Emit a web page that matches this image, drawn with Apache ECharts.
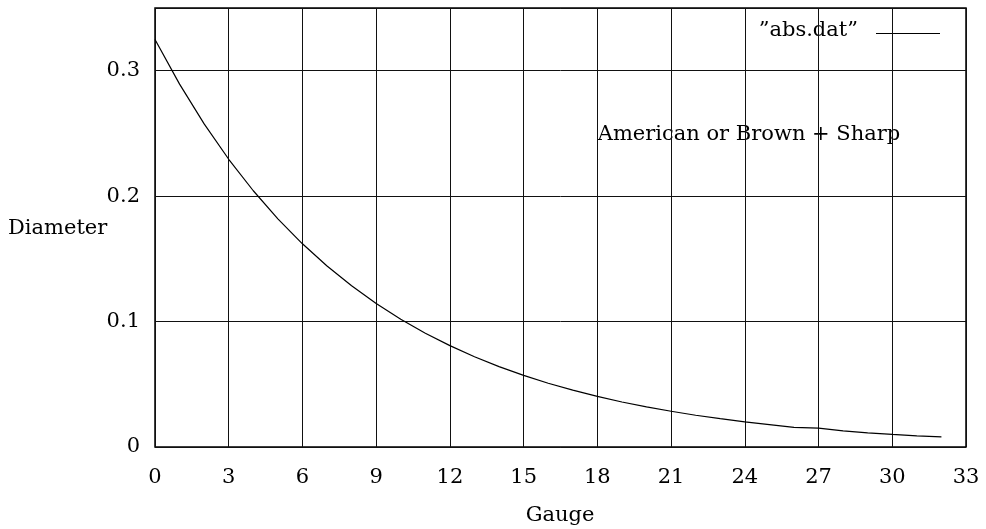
<!DOCTYPE html>
<html>
<head>
<meta charset="utf-8">
<script src="https://cdn.jsdelivr.net/npm/echarts@6/dist/echarts.min.js"></script>
<style>
  html, body { margin: 0; padding: 0; background: #fff; }
  #chart { width: 986px; height: 529px; }
</style>
</head>
<body>
<div id="chart"></div>
<script>
// gauge numbers and wire diameters
var gauges = [0, 1, 2, 3, 4, 5, 6, 7, 8, 9, 10, 11, 12, 13, 14, 15, 16,
  17, 18, 19, 20, 21, 22, 23, 24, 25, 26, 27, 28, 29, 30, 31, 32];
var diameters = [0.3249, 0.2893, 0.2576, 0.2294, 0.2043, 0.1819, 0.1620,
  0.1443, 0.1285, 0.1144, 0.1019, 0.0907, 0.0808, 0.0720, 0.0641, 0.0571,
  0.0508, 0.0453, 0.0403, 0.0359, 0.0320, 0.0285, 0.0253, 0.0226, 0.0201,
  0.0179, 0.0156, 0.0150, 0.0128, 0.0113, 0.0100, 0.0089, 0.0080];
var seriesName = '\u201dabs.dat\u201d';
var note = 'American or Brown + Sharp';

var font = '"DejaVu Serif", "Liberation Serif", serif';
var fs = 21;

var points = [];
for (var i = 0; i < gauges.length; i++) {
  points.push([gauges[i], diameters[i]]);
}

var myChart = echarts.init(document.getElementById('chart'));

var option = {
  animation: false,
  textStyle: { fontFamily: font },
  grid: {
    left: 155, right: 20, top: 8, bottom: 82,
    show: true,
    borderColor: '#000',
    borderWidth: 1.5
  },
  xAxis: {
    type: 'value',
    min: 0,
    max: 33,
    interval: 3,
    axisLine: { show: false },
    axisTick: { show: false },
    splitLine: { lineStyle: { color: '#111', width: 1 } },
    axisLabel: { color: '#000', fontSize: fs, margin: 20, fontFamily: font }
  },
  yAxis: {
    type: 'value',
    min: 0,
    max: 0.35,
    interval: 0.1,
    axisLine: { show: false },
    axisTick: { show: false },
    splitLine: { lineStyle: { color: '#111', width: 1 } },
    axisLabel: {
      color: '#000', fontSize: fs, margin: 15, fontFamily: font,
      showMaxLabel: false,
      formatter: function(v) {
        return v === 0 ? '0' : v.toFixed(1);
      }
    }
  },
  graphic: [
    {
      type: 'text', x: 8, y: 229,
      style: { text: 'Diameter', font: fs + 'px ' + font, fill: '#000', textAlign: 'left', textVerticalAlign: 'middle' }
    },
    {
      type: 'text', x: 560, y: 516,
      style: { text: 'Gauge', font: fs + 'px ' + font, fill: '#000', textAlign: 'center', textVerticalAlign: 'middle' }
    },
    {
      type: 'text', x: 749, y: 135,
      style: { text: note, font: fs + 'px ' + font, fill: '#000', textAlign: 'center', textVerticalAlign: 'middle' }
    },
    // legend key
    {
      type: 'text', x: 858, y: 31,
      style: { text: seriesName, font: fs + 'px ' + font, fill: '#000', textAlign: 'right', textVerticalAlign: 'middle' }
    },
    {
      type: 'line', shape: { x1: 876, y1: 33.5, x2: 940, y2: 33.5 },
      style: { stroke: '#000', lineWidth: 1 }
    }
  ],
  series: [{
    name: seriesName,
    type: 'line',
    data: points,
    showSymbol: false,
    symbol: 'none',
    lineStyle: { color: '#000', width: 1.2 },
    itemStyle: { color: '#000' }
  }]
};

myChart.setOption(option);
</script>
</body>
</html>
